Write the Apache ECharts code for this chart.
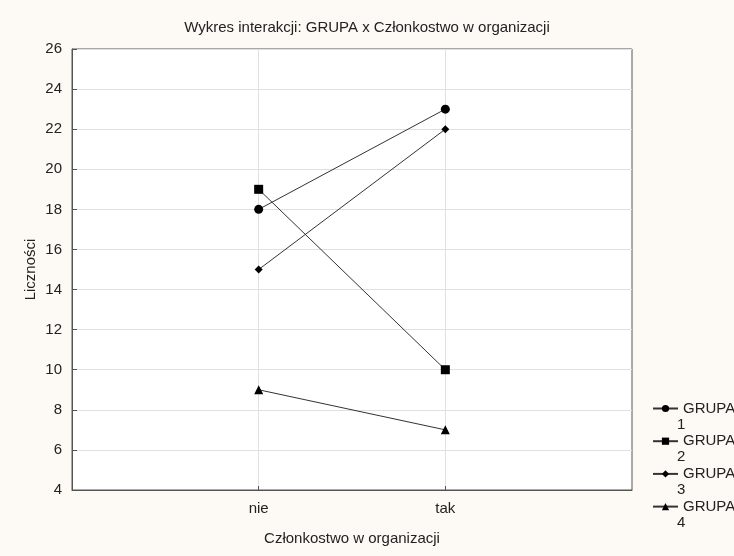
<!DOCTYPE html>
<html><head><meta charset="utf-8">
<script src="https://cdn.jsdelivr.net/npm/echarts@6/dist/echarts.min.js"></script>
<style>html,body{margin:0;padding:0;background:#fdfaf5;}#c{width:734px;height:556px;}</style>
</head><body><div id="c"></div>
<script>
const categories = ['', 'nie', 'tak', ''];
const grupa1 = [null, 18, 23, null];
const grupa2 = [null, 19, 10, null];
const grupa3 = [null, 15, 22, null];
const grupa4 = [null, 9, 7, null];
const seriesNames = ['GRUPA 1', 'GRUPA 2', 'GRUPA 3', 'GRUPA 4'];
const symbols = ['circle', 'rect', 'diamond', 'triangle'];
const symbolSizes = [9, 9, 8, 9];
const dataSets = [grupa1, grupa2, grupa3, grupa4];

const font = 'Liberation Sans, Arial, sans-serif';
const legendText = {fontFamily: font, fontSize: 15, color: '#222', lineHeight: 17};
const chart = echarts.init(document.getElementById('c'));
chart.setOption({
  backgroundColor: '#fdfaf5',
  animation: false,
  title: {
    text: 'Wykres interakcji: GRUPA x Członkostwo w organizacji',
    left: 362, top: 15, textAlign: 'center',
    textStyle: {fontFamily: font, fontSize: 15, fontWeight: 'normal', color: '#222'}
  },
  grid: {left: 72, right: 102, top: 49, bottom: 66, show: true, backgroundColor: '#ffffff', borderColor: '#555', borderWidth: 1},
  legend: [{
    orient: 'vertical', left: 647, top: 395, itemWidth: 25, itemHeight: 9, itemGap: 15.7,
    data: seriesNames, selectedMode: false,
    formatter: function(n){ return n.split(' ')[0]; },
    textStyle: legendText
  }, {
    orient: 'vertical', left: 665, top: 411, itemWidth: 1, itemHeight: 1, itemGap: 15.7,
    data: seriesNames, selectedMode: false,
    itemStyle: {opacity: 0}, lineStyle: {opacity: 0},
    formatter: function(n){ return n.split(' ')[1]; },
    textStyle: legendText
  }],
  xAxis: {
    type: 'category', data: categories, boundaryGap: false,
    name: 'Członkostwo w organizacji', nameLocation: 'middle', nameGap: 41,
    nameTextStyle: {fontFamily: font, fontSize: 15, color: '#222'},
    axisLine: {lineStyle: {color: '#555'}},
    axisTick: {inside: true, length: 4, lineStyle: {color: '#555'}, interval: function(i){return i===1||i===2;}},
    axisLabel: {fontFamily: font, fontSize: 15, color: '#222', margin: 11, interval: 0},
    splitLine: {show: true, interval: function(i){return i===1||i===2;}, lineStyle: {color: '#e0e0e0'}}
  },
  yAxis: {
    type: 'value', min: 4, max: 26, interval: 2,
    name: 'Liczności', nameLocation: 'middle', nameGap: 34, nameMoveOverlap: false,
    nameTextStyle: {fontFamily: font, fontSize: 15, color: '#222'},
    axisLine: {show: true, lineStyle: {color: '#555'}},
    axisTick: {show: true, inside: true, length: 5, lineStyle: {color: '#555'}},
    axisLabel: {fontFamily: font, fontSize: 15, color: '#222', margin: 10},
    splitLine: {show: true, lineStyle: {color: '#e0e0e0'}}
  },
  series: dataSets.map((d, i) => ({
    name: seriesNames[i], type: 'line', data: d, connectNulls: false,
    symbol: symbols[i], symbolSize: symbolSizes[i], showAllSymbol: true,
    itemStyle: {color: '#000'},
    lineStyle: {color: '#333', width: 1}
  }))
});
</script></body></html>
